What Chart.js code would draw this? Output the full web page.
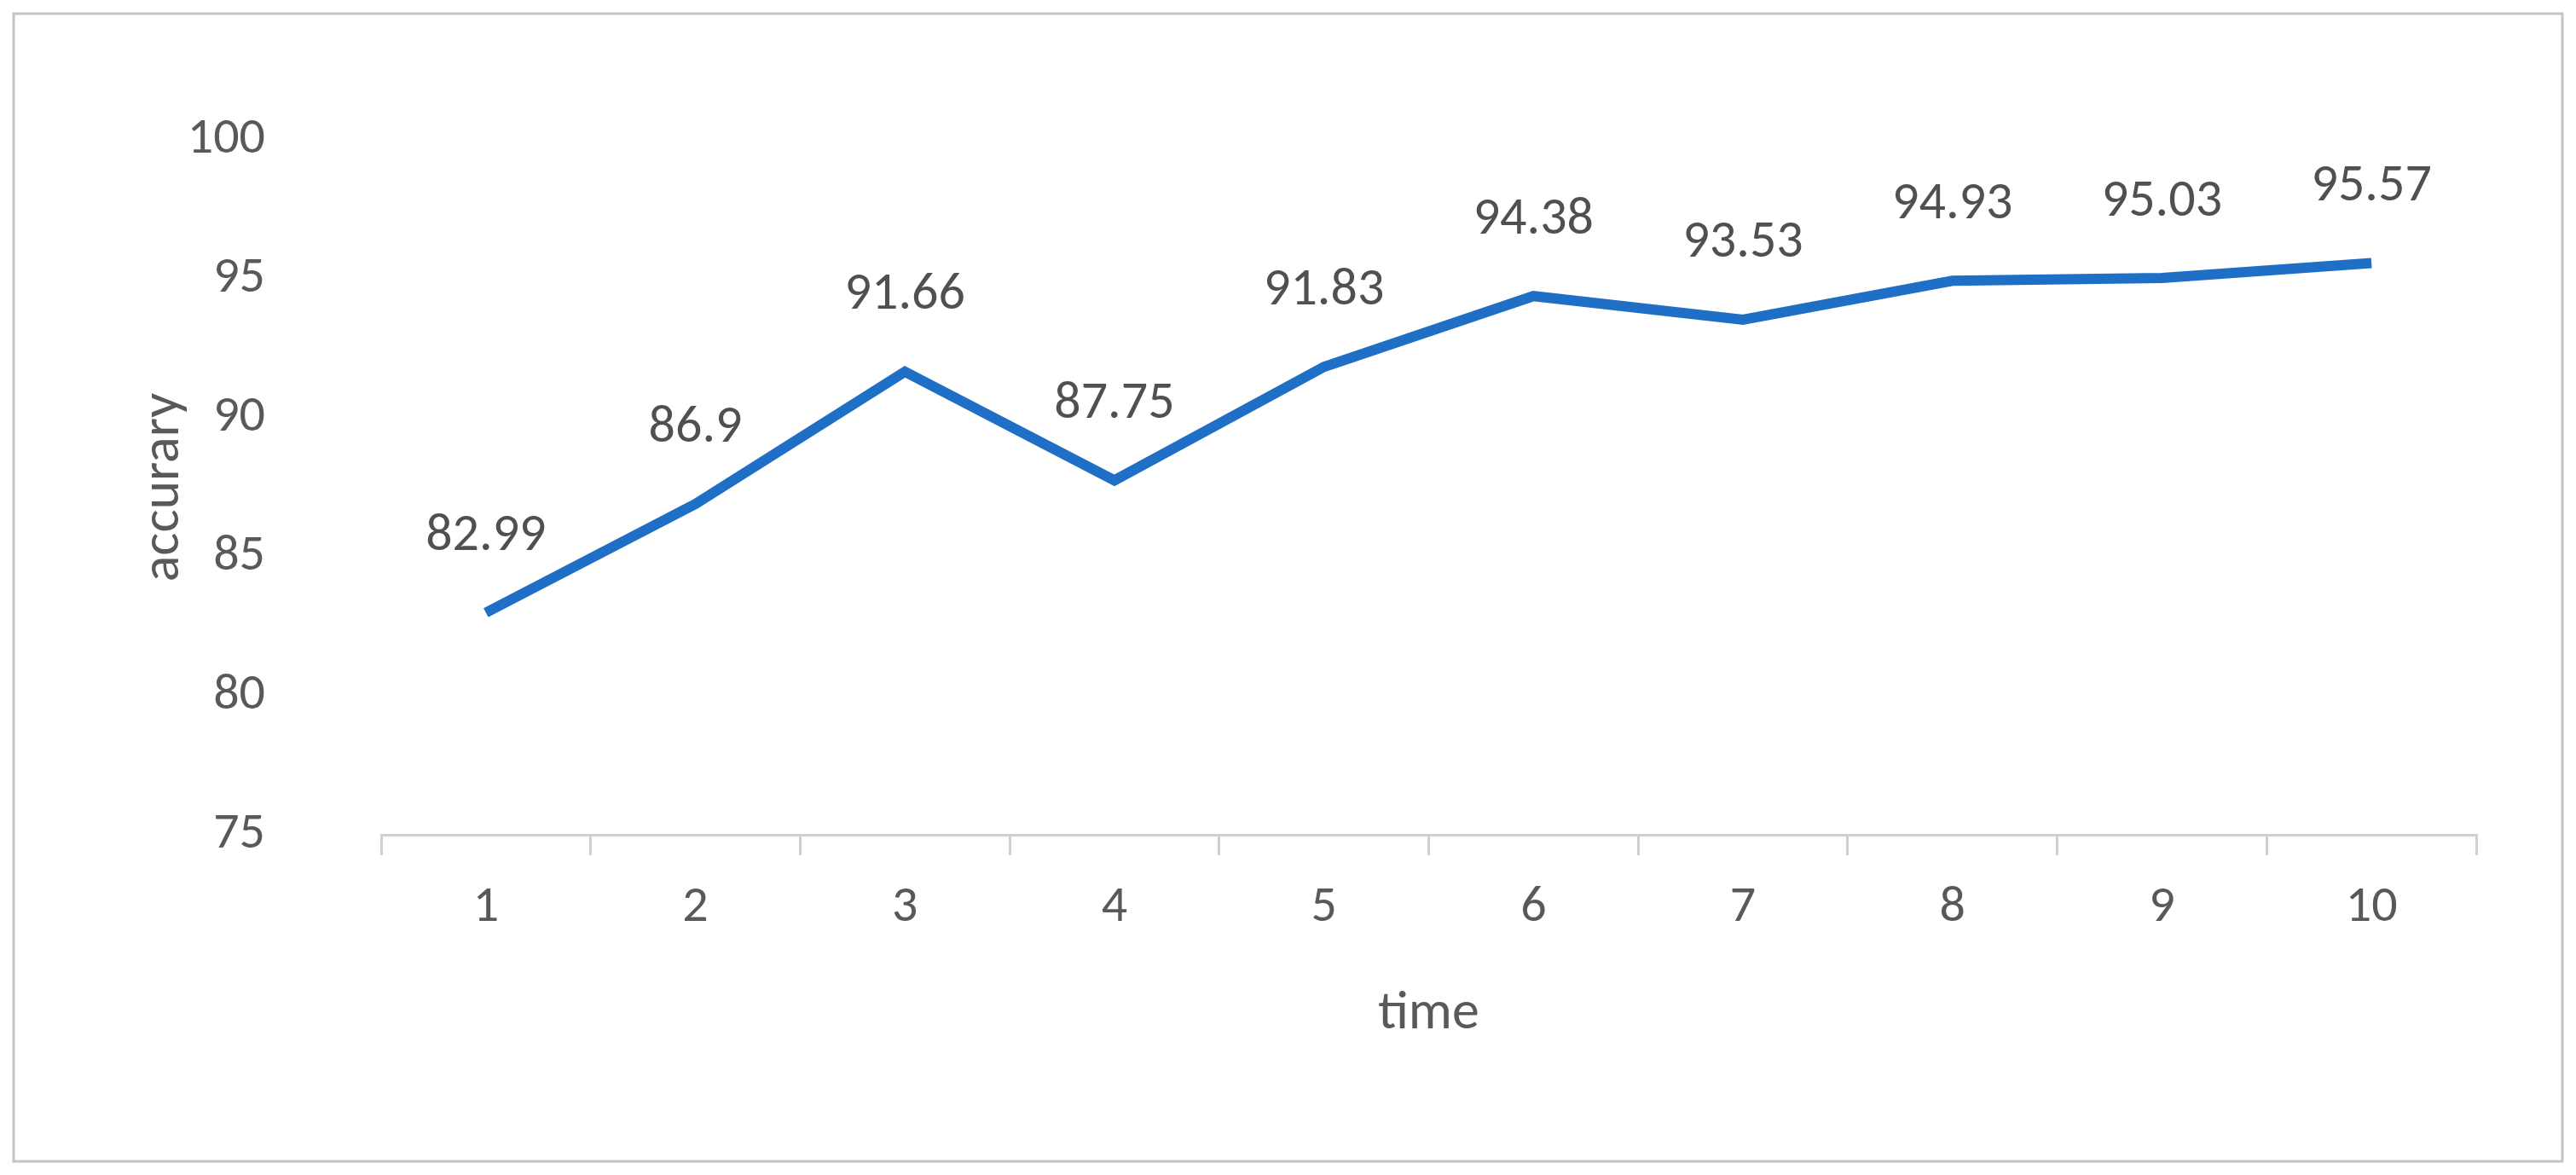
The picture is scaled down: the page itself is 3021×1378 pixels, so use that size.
<!DOCTYPE html>
<html>
<head>
<meta charset="utf-8">
<script src="https://cdn.jsdelivr.net/npm/chart.js@4"></script>
<style>
  body { margin: 0; background: #fff; }
</style>
</head>
<body>
<canvas id="myChart" width="3021" height="1378"></canvas>
<script>
var labels = ['1', '2', '3', '4', '5', '6', '7', '8', '9', '10'];
var accuracy = [82.99, 86.9, 91.66, 87.75, 91.83, 94.38, 93.53, 94.93, 95.03, 95.57];
var yTicks = [75, 80, 85, 90, 95, 100];

var frame = {
  id: 'frame',
  beforeDraw: function (chart) {
    var ctx = chart.ctx;
    ctx.save();
    ctx.fillStyle = '#fff';
    ctx.fillRect(0, 0, chart.width, chart.height);
    ctx.strokeStyle = '#c4c4c4';
    ctx.lineWidth = 3;
    ctx.strokeRect(16, 16, chart.width - 32, chart.height - 32);
    ctx.restore();
  }
};

var pointLabels = {
  id: 'pointLabels',
  afterDatasetsDraw: function (chart) {
    var ctx = chart.ctx;
    var meta = chart.getDatasetMeta(0);
    ctx.save();
    ctx.font = '62px Calibri, Carlito, "Open Sans", sans-serif';
    ctx.fillStyle = '#505050';
    ctx.textAlign = 'center';
    ctx.textBaseline = 'bottom';
    meta.data.forEach(function (pt, i) {
      ctx.fillText(String(accuracy[i]), pt.x, pt.y - 58);
    });
    ctx.restore();
  }
};

new Chart(document.getElementById('myChart'), {
  type: 'line',
  data: {
    labels: labels,
    datasets: [{
      data: accuracy,
      borderColor: '#1f6fc6',
      borderWidth: 12,
      pointRadius: 0,
      tension: 0,
      fill: false
    }]
  },
  options: {
    responsive: false,
    animation: false,
    layout: { padding: { top: 105, right: 117, left: 0, bottom: 0 } },
    plugins: { legend: { display: false }, tooltip: { enabled: false } },
    scales: {
      x: {
        offset: true,
        afterFit: function (s) { s.height = 399; },
        grid: {
          offset: true,
          drawOnChartArea: false,
          color: '#d0d0d0',
          lineWidth: 3,
          tickLength: 24
        },
        border: { color: '#d0d0d0', width: 3 },
        ticks: {
          color: '#595959',
          padding: 26,
          font: { size: 60, family: 'Calibri, Carlito, "Open Sans", sans-serif' }
        },
        title: {
          display: true,
          text: 'time',
          color: '#595959',
          padding: { top: 0, bottom: 150 },
          font: { size: 64, family: 'Calibri, Carlito, "Open Sans", sans-serif' }
        }
      },
      y: {
        min: 75,
        max: 100,
        afterFit: function (s) { s.width = 447; },
        afterBuildTicks: function (s) {
          s.ticks = yTicks.map(function (v) { return { value: v }; });
        },
        grid: { display: false },
        border: { display: false },
        ticks: {
          color: '#595959',
          padding: 128,
          font: { size: 60, family: 'Calibri, Carlito, "Open Sans", sans-serif' }
        },
        title: {
          display: true,
          text: 'accurary',
          color: '#595959',
          padding: { top: 155, bottom: 0 },
          font: { size: 64, family: 'Calibri, Carlito, "Open Sans", sans-serif' }
        }
      }
    }
  },
  plugins: [frame, pointLabels]
});
</script>
</body>
</html>
